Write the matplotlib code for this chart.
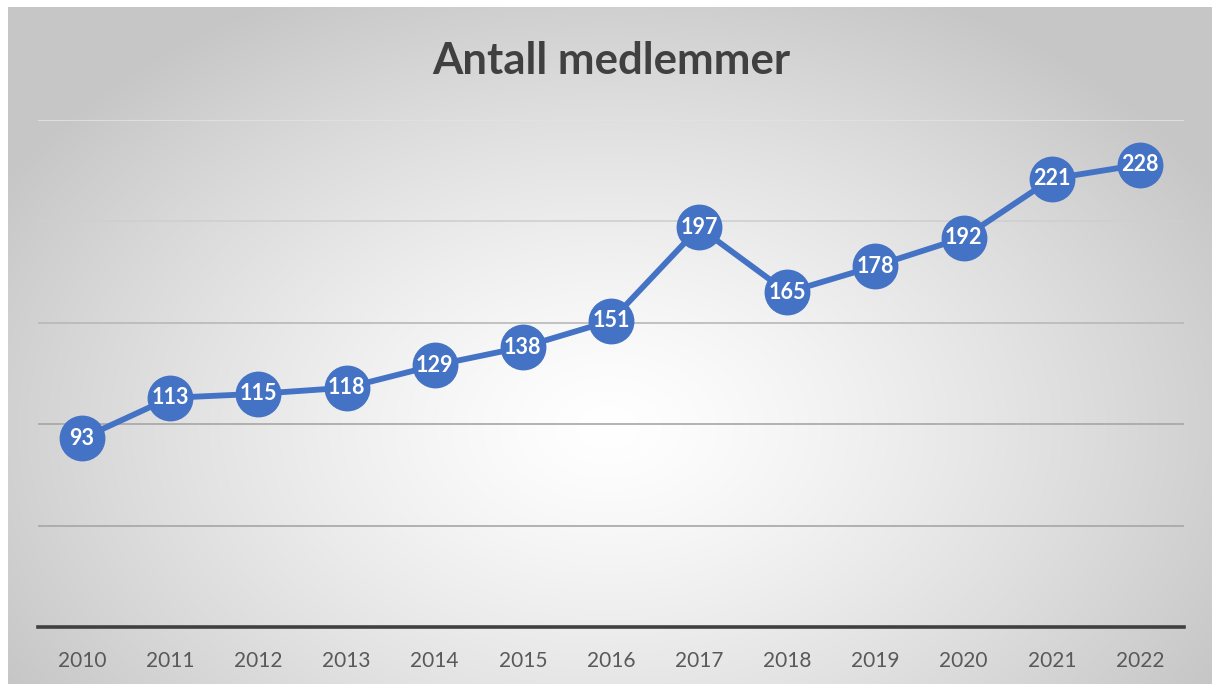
import numpy as np
import matplotlib
matplotlib.use("Agg")
import matplotlib.pyplot as plt

years = ["2010", "2011", "2012", "2013", "2014", "2015", "2016",
         "2017", "2018", "2019", "2020", "2021", "2022"]
members = [93, 113, 115, 118, 129, 138, 151, 197, 165, 178, 192, 221, 228]
title = "Antall medlemmer"

W, H = 1212, 684
fig = plt.figure(figsize=(W / 100, H / 100), dpi=100)
fig.patch.set_facecolor("white")

# radial gradient background
bg = fig.add_axes([8 / W, 0, (W - 8) / W, (H - 7) / H], zorder=0)
bg.set_axis_off()
yy, xx = np.mgrid[0:H - 7, 0:W - 8]
cx, cy = 600, 420
d = np.sqrt(((xx - cx) / 700.0) ** 2 + ((yy - cy) / 480.0) ** 2)
d = np.clip(d, 0, 1)
v = 1.0 - 0.22 * d ** 1.3
img = np.dstack([v, v, v])
bg.imshow(img, aspect="auto", extent=[0, 1, 0, 1], origin="upper")
bg.set_xlim(0, 1)
bg.set_ylim(0, 1)

ax = fig.add_axes([38 / W, 57 / H, (1184 - 38) / W, (627 - 120) / H], zorder=1)
ax.patch.set_alpha(0)
x = np.arange(len(years))
ax.set_xlim(-0.5, len(years) - 0.5)
ax.set_ylim(0, 250)

grid_vals = [50, 100, 150, 200, 250]
grid_cols = ["#a6a6a6", "#a6a6a6", "#b8b8b8", "#cfcfcf", "#e2e2e2"]
for gv, gc in zip(grid_vals, grid_cols):
    ax.axhline(gv, color=gc, lw=1.2, zorder=1)
ax.axhline(0, color="#404040", lw=2.6, zorder=2, clip_on=False)

for s in ax.spines.values():
    s.set_visible(False)
ax.set_yticks([])
ax.set_xticks(x)
ax.set_xticklabels(years, fontsize=15, color="#595959", family=["Lato", "DejaVu Sans"])
ax.tick_params(axis="x", length=0, pad=17)

ax.plot(x, members, color="#4472C4", lw=4.2, zorder=3,
        marker="o", markersize=32, markerfacecolor="#4472C4",
        markeredgecolor="#4472C4", solid_capstyle="round")
for xi, m in zip(x, members):
    ax.text(xi, m, str(m), ha="center", va="center", color="white",
            fontsize=15.5, fontweight="bold", family=["Lato", "DejaVu Sans"], zorder=4)

fig.text(611 / W, 1 - 61 / H, title, ha="center", va="center", fontsize=31.5,
         fontweight="bold", color="#404040", family=["Lato", "DejaVu Sans"])

fig.savefig("out.png", dpi=100)
